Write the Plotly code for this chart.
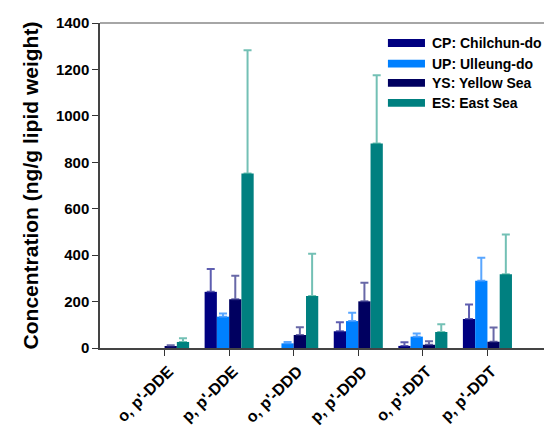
import plotly.graph_objects as go

categories = ["o, p'-DDE", "p, p'-DDE", "o, p'-DDD", "p, p'-DDD", "o, p'-DDT", "p, p'-DDT"]
series_names = ["CP: Chilchun-do", "UP: Ulleung-do", "YS: Yellow Sea", "ES: East Sea"]

cp_values = [None, 242, None, 72, 9, 125]
cp_errors = [None, 98, None, 39, 16, 62]
up_values = [None, 135, 20, 116, 49, 290]
up_errors = [None, 14, 6, 36, 14, 99]
ys_values = [8, 210, 56, 201, 14, 27]
ys_errors = [4, 101, 33, 80, 15, 61]
es_values = [26, 752, 224, 881, 69, 318]
es_errors = [16, 531, 182, 294, 33, 171]

y_ticks = [0, 200, 400, 600, 800, 1000, 1200, 1400]

bar_colors = ["#000080", "#0080FF", "#000060", "#008080"]
err_colors = ["rgba(40,40,150,0.75)", "rgba(60,150,255,0.85)", "rgba(40,40,130,0.7)", "rgba(0,140,120,0.55)"]

values = [cp_values, up_values, ys_values, es_values]
errors = [cp_errors, up_errors, ys_errors, es_errors]

FONT = "Liberation Sans, Arial"

fig = go.Figure()
for name, v, e, c, ec in zip(series_names, values, errors, bar_colors, err_colors):
    fig.add_trace(go.Bar(
        x=categories, y=v, name=name,
        marker=dict(color=c, line=dict(width=0)),
        error_y=dict(type="data", array=e, arrayminus=[0] * len(e), symmetric=False,
                     color=ec, thickness=2, width=4),
        showlegend=False,
    ))

# custom legend (wide swatches as in reference)
row_y = [0.9385, 0.875, 0.8155, 0.754]
for name, c, yy in zip(series_names, bar_colors, row_y):
    fig.add_shape(type="rect", xref="paper", yref="paper",
                  x0=0.637, x1=0.719, y0=yy - 0.012, y1=yy + 0.012,
                  fillcolor=c, line=dict(width=0))
    fig.add_annotation(xref="paper", yref="paper", x=0.729, y=yy, text="<b>%s</b>" % name,
                       showarrow=False, xanchor="left", yanchor="middle",
                       font=dict(family=FONT, size=14, color="black"))

fig.update_layout(
    width=544, height=420,
    margin=dict(l=92, r=0, t=15, b=80),
    paper_bgcolor="white", plot_bgcolor="white",
    barmode="group", bargap=0.24, bargroupgap=0,
    font=dict(family=FONT, color="black"),
)
fig.update_xaxes(
    type="category", range=[-1, 6.0], automargin=False,
    showline=True, linecolor="#444444", linewidth=1.5, mirror=False,
    ticks="outside", ticklen=6, tickcolor="#333333", tickwidth=1.2,
    tickangle=-45, tickfont=dict(family=FONT, size=16, color="black"),
    ticklabelshift=4,
    tickprefix="<b>", ticksuffix="</b>",
    showgrid=False, zeroline=False,
)
fig.update_yaxes(
    range=[0, 1400], tickvals=y_ticks, automargin=False,
    ticktext=["<b>%d</b>" % t for t in y_ticks],
    showline=True, linecolor="#444444", linewidth=1.5,
    ticks="outside", ticklen=6, tickcolor="#333333", tickwidth=1.2,
    tickfont=dict(family=FONT, size=15, color="black"),
    title=dict(text="<b>Concentration (ng/g lipid weight)</b>",
               font=dict(family=FONT, size=21, color="black"), standoff=12),
    showgrid=False, zeroline=False,
)
# top frame line
fig.add_shape(type="line", xref="paper", yref="paper", x0=0, x1=1, y0=1, y1=1,
              line=dict(color="#888888", width=1.5))

fig.write_html("out.html")
